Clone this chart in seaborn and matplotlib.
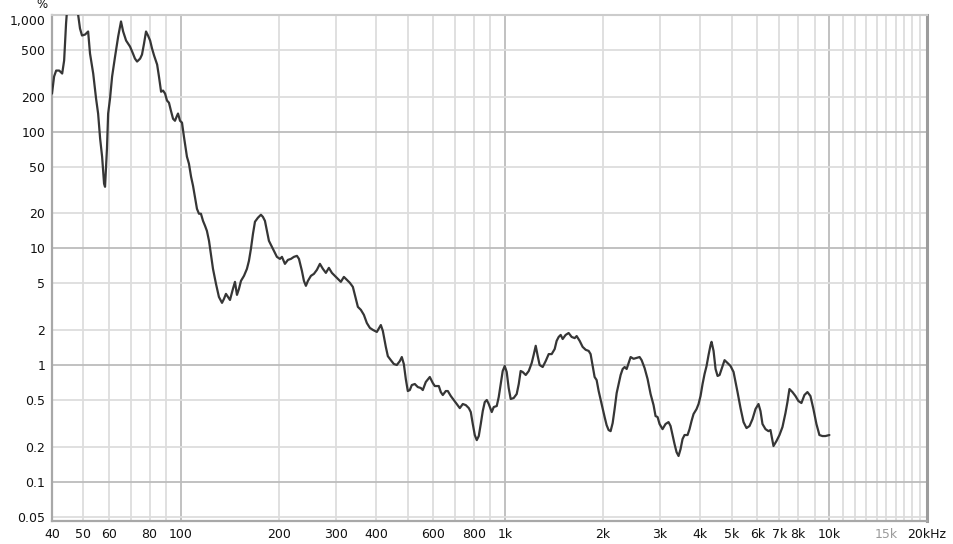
import matplotlib
matplotlib.use("Agg")
import matplotlib.pyplot as plt
import pandas as pd
import seaborn as sns

# distortion curve (Hz, %)
freq_hz = [40, 40.6, 41.2, 42.1, 43.0, 43.6, 44.2, 44.5, 45.5, 47.1,
           48.1, 48.8, 49.5, 50.6, 51.7, 52.4, 53.6, 54.7, 55.5, 56.3,
           57.1, 57.9, 58.3, 59.1, 59.6, 60.4, 61.3, 62.6, 64.0, 65.3,
           66.3, 67.7, 69.6, 71.1, 72.1, 73.2, 74.8, 75.8, 76.9, 78.0,
           79.1, 80.3, 81.4, 82.6, 84.4, 85.5, 86.8, 88.0, 89.3, 90.5,
           91.8, 93.1, 94.5, 95.8, 97.2, 97.9, 99.3, 100.7, 102.1, 104.3,
           105.8, 107.4, 108.9, 110.4, 112.0, 113.6, 115.2, 116.9, 118.6, 120.2,
           122.0, 123.7, 125.5, 128.2, 130.9, 133.8, 135.7, 137.6, 139.6, 141.6,
           144.6, 146.7, 148.8, 150.9, 153.1, 156.4, 159.7, 162.0, 164.3, 166.7,
           169.1, 172.7, 176.4, 178.9, 181.5, 184.1, 186.7, 189.4, 193.5, 197.6,
           201.9, 204.8, 209.2, 213.7, 218.3, 223.0, 227.8, 231.1, 236.0, 239.4,
           242.8, 246.3, 251.6, 257.0, 262.5, 268.2, 273.9, 279.8, 285.8, 292.0,
           298.3, 304.7, 311.2, 318.0, 324.8, 331.8, 338.9, 346.2, 351.2, 358.7,
           366.5, 374.3, 382.4, 390.6, 401.8, 413.4, 419.3, 428.3, 434.5, 443.8,
           453.4, 463.1, 473.1, 479.8, 486.7, 493.6, 500.7, 507.9, 515.1, 526.2,
           537.5, 549.1, 556.9, 568.9, 585.3, 597.9, 606.5, 624.0, 632.9, 642.0,
           655.8, 665.2, 679.5, 694.1, 709.1, 724.3, 739.9, 755.8, 772.1, 783.1,
           794.3, 805.6, 817.1, 828.8, 840.6, 852.7, 864.8, 877.2, 889.7, 908.8,
           921.8, 941.6, 955.0, 968.6, 982.4, 996.5, 1010.7, 1025, 1039.8, 1062,
           1085, 1101, 1116, 1132, 1157, 1182, 1207, 1224, 1242, 1260,
           1277, 1305, 1333, 1362, 1391, 1421, 1441, 1462, 1483, 1504,
           1536, 1569, 1603, 1638, 1661, 1697, 1733, 1771, 1809, 1834,
           1861, 1887, 1914, 1942, 1983, 2026, 2055, 2084, 2114, 2145,
           2175, 2207, 2238, 2270, 2303, 2336, 2369, 2403, 2437, 2489,
           2543, 2597, 2635, 2691, 2749, 2808, 2868, 2909, 2951, 2993,
           3057, 3123, 3190, 3236, 3282, 3329, 3377, 3425, 3474, 3524,
           3574, 3651, 3703, 3756, 3810, 3892, 3948, 4004, 4062, 4120,
           4179, 4239, 4299, 4330, 4392, 4455, 4519, 4584, 4649, 4749,
           4851, 4955, 5062, 5134, 5207, 5319, 5434, 5550, 5670, 5792,
           5916, 6043, 6129, 6217, 6351, 6487, 6580, 6722, 6866, 7014,
           7165, 7319, 7423, 7529, 7691, 7857, 8026, 8198, 8375, 8555,
           8739, 8927, 9119, 9315, 9516, 9720, 10000]
thd_pct = [212, 297, 334, 334, 315, 407, 845, 1093, 1700, 1500,
           1030, 766, 667, 680, 722, 467, 315, 192, 143, 87.1,
           61.0, 35.8, 33.7, 71.5, 143, 192, 297, 440, 654, 880,
           722, 604, 537, 467, 423, 399, 423, 458, 569, 722,
           667, 604, 516, 449, 376, 297, 220, 225, 212, 185,
           177, 151, 129, 124, 137, 143, 124, 119.5, 90.6, 61.0,
           53.1, 41.1, 34.4, 27.7, 21.8, 19.8, 19.8, 17.2, 15.6, 14.1,
           11.6, 8.80, 6.67, 4.96, 3.83, 3.41, 3.69, 4.07, 3.83, 3.61,
           4.49, 5.16, 3.99, 4.49, 5.26, 5.81, 6.67, 7.81, 9.90, 13.3,
           16.9, 18.3, 19.4, 18.6, 17.2, 14.1, 11.6, 10.7, 9.52, 8.45,
           8.12, 8.45, 7.36, 7.96, 8.12, 8.45, 8.62, 8.12, 6.41, 5.26,
           4.77, 5.26, 5.81, 6.04, 6.54, 7.36, 6.67, 6.16, 6.80, 6.16,
           5.81, 5.47, 5.16, 5.69, 5.37, 5.06, 4.67, 3.69, 3.15, 2.97,
           2.69, 2.29, 2.08, 2.00, 1.92, 2.20, 1.96, 1.43, 1.19, 1.10,
           1.02, 1.00, 1.08, 1.17, 1.02, 0.758, 0.598, 0.610, 0.673, 0.687,
           0.647, 0.635, 0.610, 0.715, 0.789, 0.701, 0.660, 0.660, 0.586, 0.553,
           0.598, 0.598, 0.542, 0.501, 0.463, 0.427, 0.463, 0.453, 0.427, 0.395,
           0.312, 0.251, 0.227, 0.246, 0.312, 0.403, 0.481, 0.501, 0.463, 0.395,
           0.436, 0.445, 0.531, 0.687, 0.888, 0.980, 0.871, 0.635, 0.511, 0.521,
           0.564, 0.687, 0.888, 0.871, 0.821, 0.888, 1.04, 1.22, 1.46, 1.19,
           1.00, 0.961, 1.08, 1.24, 1.24, 1.37, 1.61, 1.74, 1.81, 1.67,
           1.81, 1.88, 1.74, 1.70, 1.77, 1.61, 1.43, 1.35, 1.32, 1.24,
           0.980, 0.789, 0.743, 0.598, 0.463, 0.358, 0.305, 0.277, 0.271, 0.318,
           0.419, 0.575, 0.687, 0.821, 0.924, 0.961, 0.924, 1.04, 1.17, 1.13,
           1.15, 1.17, 1.10, 0.942, 0.758, 0.564, 0.453, 0.365, 0.358, 0.312,
           0.282, 0.312, 0.324, 0.300, 0.251, 0.210, 0.179, 0.166, 0.190, 0.232,
           0.251, 0.251, 0.282, 0.331, 0.380, 0.419, 0.463, 0.542, 0.687, 0.837,
           0.980, 1.22, 1.48, 1.58, 1.32, 0.924, 0.805, 0.821, 0.924, 1.10,
           1.04, 0.980, 0.871, 0.715, 0.586, 0.427, 0.324, 0.288, 0.300, 0.344,
           0.419, 0.463, 0.403, 0.312, 0.282, 0.271, 0.277, 0.202, 0.223, 0.251,
           0.294, 0.387, 0.481, 0.622, 0.586, 0.542, 0.491, 0.472, 0.553, 0.586,
           0.542, 0.419, 0.312, 0.251, 0.246, 0.246, 0.251]

x_ticks = [40, 50, 60, 80, 100, 200, 300, 400, 600, 800, 1000, 2000, 3000,
           4000, 5000, 6000, 7000, 8000, 10000, 15000, 20000]
x_tick_labels = ["40", "50", "60", "80", "100", "200", "300", "400", "600", "800",
                 "1k", "2k", "3k", "4k", "5k", "6k", "7k", "8k", "10k", "15k", "20kHz"]
y_ticks = [0.05, 0.1, 0.2, 0.5, 1, 2, 5, 10, 20, 50, 100, 200, 500, 1000]
y_tick_labels = ["0.05", "0.1", "0.2", "0.5", "1", "2", "5", "10", "20", "50",
                 "100", "200", "500", "1,000"]

df = pd.DataFrame({"freq": freq_hz, "thd": thd_pct})

sns.set_theme(style="white")
plt.rcParams['font.family'] = ['DejaVu Sans']

fig = plt.figure(figsize=(9.54, 5.44), dpi=100)
ax = fig.add_axes([52 / 954, 23 / 544, 875 / 954, 506 / 544])

# grid: every 1-2-..-9 step per decade on x, 1-2-5 on y; decades darker
x_grid = [m * 10 ** e for e in (1, 2, 3, 4) for m in range(1, 10)]
x_grid = [g for g in x_grid if 40 <= g <= 20000] + [11000 + 1000 * i for i in range(10)]
for g in x_grid:
    dec = g in (100, 1000, 10000)
    ax.axvline(g, color="#bcbcbc" if dec else "#dddddd", lw=1.3, zorder=0)
for g in y_ticks:
    dec = g in (0.1, 1, 10, 100, 1000)
    ax.axhline(g, color="#bcbcbc" if dec else "#dddddd", lw=1.3, zorder=0)

sns.lineplot(data=df, x="freq", y="thd", ax=ax, color="#363636", lw=1.6,
             estimator=None, sort=False, zorder=3)

ax.set_xscale("log")
ax.set_yscale("log")
ax.set_xlim(40, 20000)
ax.set_ylim(0.046, 1000)

ax.set_xticks(x_ticks)
ax.set_xticklabels(x_tick_labels)
ax.set_yticks(y_ticks)
ax.set_yticklabels(y_tick_labels)
ax.minorticks_off()
ax.tick_params(length=0, labelsize=9, labelcolor="#111111")
ax.tick_params(axis="x", pad=5)
ax.tick_params(axis="y", pad=5)
ax.get_xticklabels()[-2].set_color("#9a9a9a")
# nudge the top label down a little so it sits clear of the unit sign
ax.get_yticklabels()[-1].set_va("top")
ax.set_xlabel("")
ax.set_ylabel("")

for side in ("left", "bottom"):
    ax.spines[side].set_color("#a8a8a8")
    ax.spines[side].set_linewidth(1.6)
ax.spines["top"].set_color("#cccccc")
ax.spines["top"].set_linewidth(1.5)
ax.spines["right"].set_color("#9c9c9c")
ax.spines["right"].set_linewidth(2.2)

fig.text(42 / 954, 1 - 5 / 544, "%", ha="center", va="center", fontsize=8.5, color="#111111")

fig.savefig("out.png", dpi=100)
